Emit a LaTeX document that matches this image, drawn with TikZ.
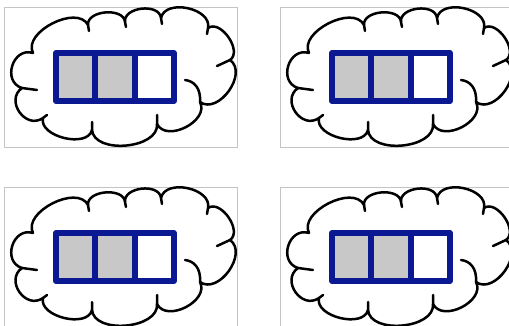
\documentclass[tikz,border=0pt]{standalone}
\usepackage{tikz}
\usetikzlibrary{positioning,calc}

\definecolor{boxblue}{RGB}{10,24,146}
\definecolor{cellgray}{RGB}{200,200,200}
\definecolor{framegray}{RGB}{196,196,196}

\begin{document}
\begin{tikzpicture}[
    x=1pt, y=-1pt,
    frame/.style     = {draw=framegray, line width=0.9pt},
    cloudline/.style = {line width=2.5pt, line cap=round, line join=round},
    cell/.style      = {draw=boxblue, line width=6pt, line join=round,
                        minimum width=39.3pt, minimum height=48pt,
                        inner sep=0pt, outer sep=0pt},
    lobe/.style      = {to path={.. controls ($(\tikztostart)!#1!-90:(\tikztotarget)$)
                        and ($(\tikztotarget)!#1!90:(\tikztostart)$) .. (\tikztotarget)}},
    node distance    = 0pt
]
\clip (0,0) rectangle (509,326);

\foreach \dx/\dy/\n in {0/0/1, 276/0/2, 0/180/3, 276/180/4}{
  \begin{scope}[shift={(\dx,\dy)}]
    % panel frame
    \draw[frame] (4,7) rectangle ++(233,140);

    % cloud outline
    \draw[cloudline] (33,53) to[lobe=0.58] (22,88) to[lobe=0.58] (43,118)
      to[lobe=0.38] (92,130) to[lobe=0.38] (157,124) to[lobe=0.44] (200,102)
      to[lobe=0.44] (230,60) to[lobe=0.40] (208,28) to[lobe=0.42] (161,18)
      to[lobe=0.42] (125,22) to[lobe=0.40] (88,25) to[lobe=0.38] (33,53);

    % small inner strokes of the cloud
    \draw[cloudline] (22,88) -- (37,90) (43,118) -- (47,115) (92,130) -- (92,122)
      (157,124) -- (157,115) (230,60) -- (217,66) (208,28) -- (207,34)
      (161,18) -- (162,24) (125,22) -- (126,27) (88,25) -- (89,31);
    \draw[cloudline] (200,102) .. controls (201,88) and (194,81) .. (185,80);

    % three cells
    \node[cell, fill=cellgray] (c\n-1) at (75.65,77) {};
    \node[cell, fill=cellgray, right=of c\n-1] (c\n-2) {};
    \node[cell, fill=white, right=of c\n-2] (c\n-3) {};
  \end{scope}
}
\end{tikzpicture}
\end{document}
